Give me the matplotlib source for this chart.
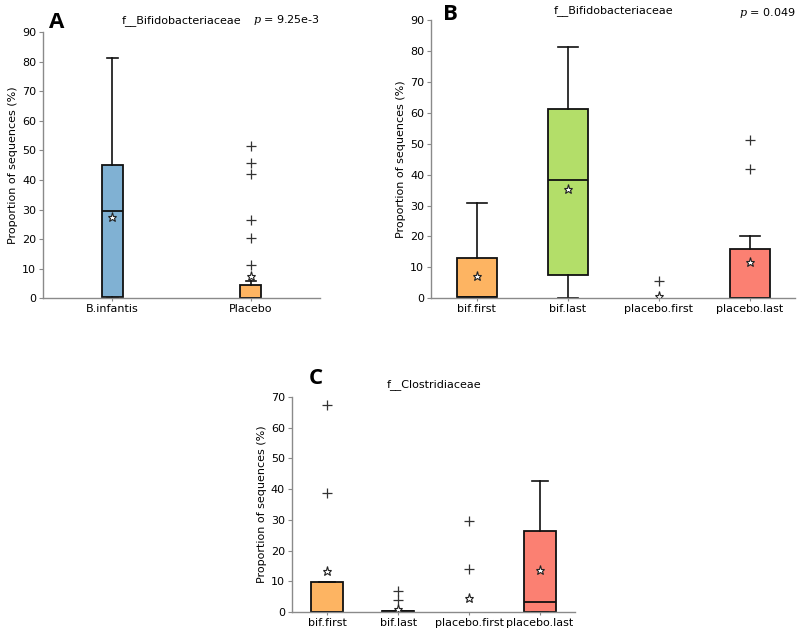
import matplotlib
matplotlib.use("Agg")
import matplotlib.pyplot as plt

# ---------------- data ----------------
# Panel A
a_labels = ["B.infantis", "Placebo"]
a_q1 = [0.5, 0.0]
a_med = [29.5, 0.2]
a_q3 = [45.0, 4.5]
a_whislo = [0.0, 0.0]
a_whishi = [81.3, 5.7]
a_mean = [27.5, 7.6]
a_fliers = [[], [11.3, 20.2, 26.6, 42.0, 45.8, 51.4]]
a_colors = ["#80b1d3", "#fdb462"]
a_title = "f__Bifidobacteriaceae"
a_p = "9.25e-3"
a_yticks = [0, 10, 20, 30, 40, 50, 60, 70, 80, 90]

# Panel B
b_labels = ["bif.first", "bif.last", "placebo.first", "placebo.last"]
b_q1 = [0.5, 7.45, 0.0, 0.0]
b_med = [0.5, 38.4, 0.0, 0.0]
b_q3 = [13.0, 61.1, 0.0, 15.8]
b_whislo = [0.0, 0.0, 0.0, 0.0]
b_whishi = [30.9, 81.2, 0.0, 20.2]
b_mean = [7.3, 35.4, 0.75, 11.6]
b_fliers = [[], [], [5.7], [41.9, 51.3]]
b_colors = ["#fdb462", "#b3de69", "#80b1d3", "#fb8072"]
b_title = "f__Bifidobacteriaceae"
b_p = "0.049"
b_yticks = [0, 10, 20, 30, 40, 50, 60, 70, 80, 90]

# Panel C
c_labels = ["bif.first", "bif.last", "placebo.first", "placebo.last"]
c_q1 = [0.0, 0.0, 0.0, 0.0]
c_med = [0.0, 0.3, 0.0, 3.3]
c_q3 = [9.8, 0.5, 0.0, 26.5]
c_whislo = [0.0, 0.0, 0.0, 0.0]
c_whishi = [9.8, 0.5, 0.0, 42.5]
c_mean = [13.3, 1.1, 4.7, 13.8]
c_fliers = [[38.9, 67.3], [3.8, 6.75], [14.0, 29.6], []]
c_colors = ["#fdb462", "#b3de69", "#80b1d3", "#fb8072"]
c_title = "f__Clostridiaceae"
c_yticks = [0, 10, 20, 30, 40, 50, 60, 70]

ylabel = "Proportion of sequences (%)"

plt.rcParams["font.family"] = ["DejaVu Sans"]

fig = plt.figure(figsize=(8.0, 6.33), dpi=100)

SPINE = "#8a8a8a"


def draw(ax, labels, q1, med, q3, wlo, whi, mean, fliers, colors, width, ylim, yticks):
    stats = []
    for i in range(len(labels)):
        stats.append(dict(label=labels[i], q1=q1[i], med=med[i], q3=q3[i],
                          whislo=wlo[i], whishi=whi[i], mean=mean[i], fliers=fliers[i]))
    pos = list(range(1, len(labels) + 1))
    bp = ax.bxp(stats, positions=pos, widths=width, patch_artist=True,
                showmeans=True, showfliers=True,
                boxprops=dict(edgecolor="#111111", linewidth=1.3),
                medianprops=dict(color="#111111", linewidth=1.3),
                whiskerprops=dict(color="#111111", linewidth=1.2),
                capprops=dict(color="#111111", linewidth=1.2),
                capwidths=width * 0.5,
                meanprops=dict(marker="*", markerfacecolor="white",
                               markeredgecolor="#222222", markersize=6.5,
                               markeredgewidth=0.8),
                flierprops=dict(marker="+", markeredgecolor="#333333",
                                markersize=7, markeredgewidth=0.9))
    for patch, col in zip(bp["boxes"], colors):
        patch.set_facecolor(col)
    for i in range(len(labels)):
        if q3[i] == q1[i] and whi[i] == wlo[i]:
            bp["boxes"][i].set_visible(False)
            bp["medians"][i].set_visible(False)
            bp["caps"][2 * i].set_visible(False)
            bp["caps"][2 * i + 1].set_visible(False)
    ax.set_xlim(0.5, len(labels) + 0.5)
    ax.set_ylim(*ylim)
    ax.set_yticks(yticks)
    ax.set_xticks(pos)
    ax.set_xticklabels(labels, fontsize=8)
    ax.tick_params(axis="y", labelsize=8, direction="out", length=3, color=SPINE, pad=2)
    ax.tick_params(axis="x", direction="out", length=2, color=SPINE, pad=2)
    for s in ["top", "right"]:
        ax.spines[s].set_visible(False)
    for s in ["left", "bottom"]:
        ax.spines[s].set_color(SPINE)
        ax.spines[s].set_linewidth(1.0)
    ax.set_ylabel(ylabel, fontsize=8, labelpad=3)


# Panel A
axA = fig.add_axes([0.054, 0.529, 0.346, 0.42])
draw(axA, a_labels, a_q1, a_med, a_q3, a_whislo, a_whishi, a_mean, a_fliers,
     a_colors, 0.15, (0, 90), a_yticks)
axA.text(0.5, 1.025, a_title, transform=axA.transAxes, ha="center", va="bottom", fontsize=8)
axA.text(1.0, 1.02, r"$p$ = " + a_p, transform=axA.transAxes, ha="right", va="bottom",
         fontsize=8, math_fontfamily="dejavuserif")
fig.text(57 / 800, 1 - 22 / 633, "A", fontsize=16, fontweight="bold", ha="center",
         va="center", family="Open Sans")

# Panel B
axB = fig.add_axes([0.539, 0.529, 0.455, 0.439])
draw(axB, b_labels, b_q1, b_med, b_q3, b_whislo, b_whishi, b_mean, b_fliers,
     b_colors, 0.44, (0, 90), b_yticks)
axB.text(0.5, 1.015, b_title, transform=axB.transAxes, ha="center", va="bottom", fontsize=8)
axB.text(1.0, 1.0, r"$p$ = " + b_p, transform=axB.transAxes, ha="right", va="bottom",
         fontsize=8, math_fontfamily="dejavuserif")
fig.text(450 / 800, 1 - 15 / 633, "B", fontsize=16, fontweight="bold", ha="center",
         va="center", family="Open Sans")

# Panel C
axC = fig.add_axes([0.365, 0.033, 0.354, 0.34])
draw(axC, c_labels, c_q1, c_med, c_q3, c_whislo, c_whishi, c_mean, c_fliers,
     c_colors, 0.45, (0, 70), c_yticks)
axC.text(0.5, 1.03, c_title, transform=axC.transAxes, ha="center", va="bottom", fontsize=8)
fig.text(316 / 800, 1 - 379 / 633, "C", fontsize=16, fontweight="bold", ha="center",
         va="center", family="Open Sans")

fig.savefig("out.png", dpi=100)
